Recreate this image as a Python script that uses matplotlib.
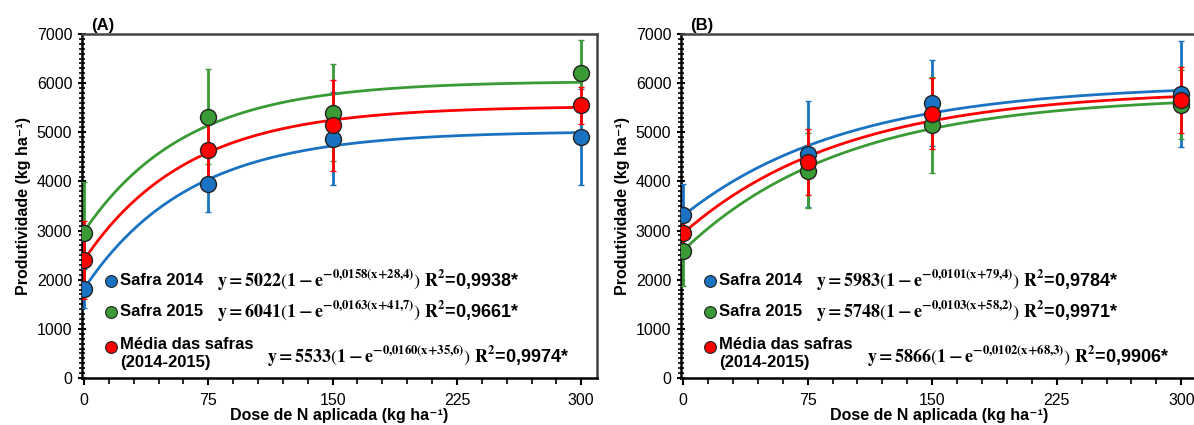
import matplotlib.pyplot as plt
import numpy as np
from matplotlib.ticker import MultipleLocator

plt.rcParams['font.family'] = ['Liberation Sans', 'DejaVu Sans']
plt.rcParams['mathtext.fontset'] = 'stix'

doses = [0, 75, 150, 300]
labels = ['Safra 2014', 'Safra 2015', 'Média das safras\n(2014-2015)']
colors = ['#1a73c2', '#3a9a35', '#ff0000']

# (A)
a_2014 = [1820, 3950, 4870, 4900]
a_2014_err = [400, 570, 940, 980]
a_2015 = [2950, 5320, 5400, 6200]
a_2015_err = [1030, 960, 990, 680]
a_media = [2400, 4630, 5140, 5550]
a_media_err = [800, 680, 920, 380]
a_fit = [(5022, 0.0158, 28.4), (6041, 0.0163, 41.7), (5533, 0.0160, 35.6)]
a_r2 = ['0,9938', '0,9661', '0,9974']

# (B)
b_2014 = [3320, 4560, 5600, 5780]
b_2014_err = [630, 1080, 870, 1070]
b_2015 = [2590, 4220, 5150, 5560]
b_2015_err = [720, 760, 980, 700]
b_media = [2960, 4390, 5380, 5660]
b_media_err = [500, 670, 730, 670]
b_fit = [(5983, 0.0101, 79.4), (5748, 0.0103, 58.2), (5866, 0.0102, 68.3)]
b_r2 = ['0,9784', '0,9971', '0,9906']


def equation(a, b, c, r2):
    bs = ('%.4f' % b).replace('.', '{,}')
    cs = ('%.1f' % c).replace('.', '{,}')
    return (r'$\mathbf{y = %d\left(1 - e^{-%s(x{+}%s)}\right)\ R^{2}}$=%s*'
            % (a, bs, cs, r2))


def draw_panel(ax, tag, means, errs, fits, r2s):
    xs = np.linspace(0, 300, 301)
    for (a, b, c), col in zip(fits, colors):
        ax.plot(xs, a * (1 - np.exp(-b * (xs + c))), color=col, lw=2, zorder=2)
    for y, e, col in zip(means, errs, colors):
        ax.errorbar(doses, y, yerr=e, fmt='o', color=col, ecolor=col, elinewidth=2,
                    capsize=2.5, capthick=2, ms=11.5, mfc=col, mec='#222222', mew=1,
                    zorder=3)

    ax.set_xlim(-1.2, 309.5)
    ax.set_ylim(0, 7000)
    ax.xaxis.set_major_locator(MultipleLocator(75))
    ax.xaxis.set_minor_locator(MultipleLocator(15))
    ax.yaxis.set_major_locator(MultipleLocator(1000))
    ax.yaxis.set_minor_locator(MultipleLocator(100))
    ax.tick_params(axis='x', which='major', direction='out', length=5, width=1.5, labelsize=11.5, pad=6)
    ax.tick_params(axis='x', which='minor', direction='out', length=4, width=1.2)
    ax.tick_params(axis='y', which='major', direction='inout', length=6, width=1.5, labelsize=11.5, pad=4)
    ax.tick_params(axis='y', which='minor', direction='inout', length=4, width=1.2)
    for s in ('left', 'bottom'):
        ax.spines[s].set_linewidth(1.8)
        ax.spines[s].set_color('black')
    for s in ('top', 'right'):
        ax.spines[s].set_linewidth(1.8)
        ax.spines[s].set_color('#444444')
    ax.set_xlabel('Dose de N aplicada (kg ha⁻¹)', fontsize=11.5, fontweight='bold', labelpad=0)
    ax.set_ylabel('Produtividade (kg ha⁻¹)', fontsize=11.5, fontweight='bold', labelpad=4)
    ax.text(0.018, 1.003, tag, transform=ax.transAxes, fontsize=12, fontweight='bold',
            va='bottom', ha='left')

    # legend rows with fitted equations
    rows_y = [0.282, 0.192, 0.090]
    eq_pos = [(0.262, 0.285), (0.262, 0.195), (0.360, 0.064)]
    for i, ((a, b, c), r2) in enumerate(zip(fits, r2s)):
        ax.plot([0.057], [rows_y[i]], 'o', transform=ax.transAxes, ms=8.5,
                color=colors[i], mec='#222222', mew=0.8, clip_on=False, zorder=4)
        ax.text(0.074, rows_y[i] + (0.0 if i < 2 else 0.028), labels[i],
                transform=ax.transAxes, fontsize=12, fontweight='bold',
                va='center' if i < 2 else 'top', ha='left', linespacing=1.25)
        ax.text(eq_pos[i][0], eq_pos[i][1], equation(a, b, c, r2), transform=ax.transAxes,
                fontsize=13, fontweight='bold', va='center', ha='left')


fig = plt.figure(figsize=(11.94, 4.25), dpi=100)
ax_a = fig.add_axes([0.0687, 0.1106, 0.4313, 0.8094])
ax_b = fig.add_axes([0.5704, 0.1106, 0.4322, 0.8094])

draw_panel(ax_a, '(A)', [a_2014, a_2015, a_media], [a_2014_err, a_2015_err, a_media_err],
           a_fit, a_r2)
draw_panel(ax_b, '(B)', [b_2014, b_2015, b_media], [b_2014_err, b_2015_err, b_media_err],
           b_fit, b_r2)

fig.savefig('out.png', dpi=100)
